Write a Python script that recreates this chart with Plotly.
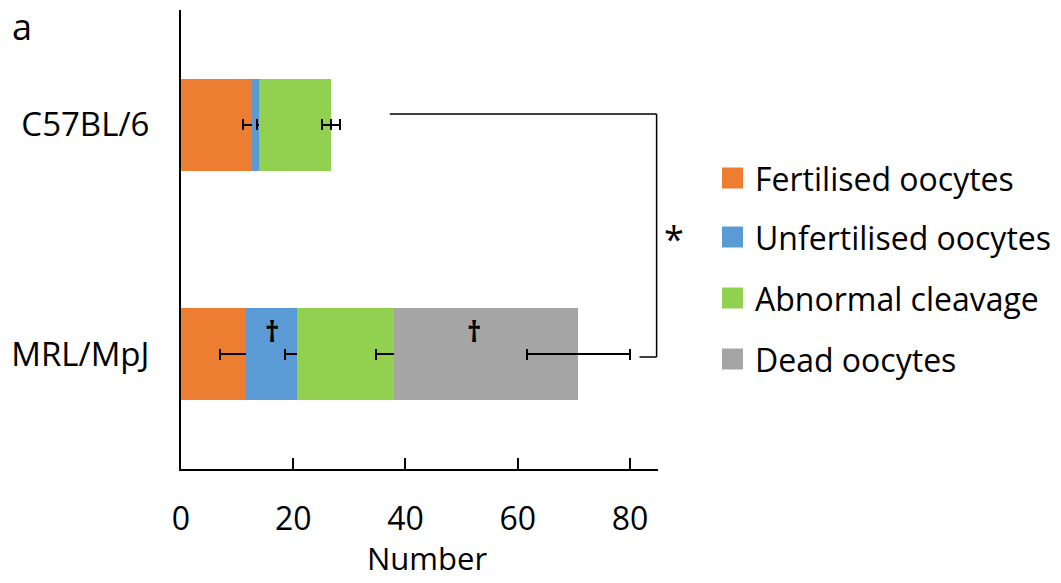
import plotly.graph_objects as go

W, H = 1061, 583
L, R, T, B = 181, 403, 10, 114

strains = ["C57BL/6", "MRL/MpJ"]
series = ["Fertilised oocytes", "Unfertilised oocytes", "Abnormal cleavage", "Dead oocytes"]
colors = ["#ED7D31", "#5B9BD5", "#92D050", "#A5A5A5"]
values = {
    "Fertilised oocytes": [12.7, 11.5],
    "Unfertilised oocytes": [1.2, 9.2],
    "Abnormal cleavage": [12.8, 17.2],
    "Dead oocytes": [0.0, 32.9],
}
errors = {
    "Fertilised oocytes": [1.65, 4.6],
    "Unfertilised oocytes": [0.33, 2.2],
    "Abnormal cleavage": [1.6, 3.2],
    "Dead oocytes": [0.0, 9.2],
}
x_ticks = [0, 20, 40, 60, 80]
FONT = "Open Sans"

fig = go.Figure()
for name, col in zip(series, colors):
    fig.add_trace(go.Bar(
        y=strains, x=values[name], name=name, orientation="h",
        marker=dict(color=col, line=dict(width=0)), width=0.4,
        error_x=dict(type="data", array=errors[name], visible=True,
                     color="black", thickness=2, width=5.5),
        showlegend=False,
    ))

fig.update_layout(
    barmode="stack",
    width=W, height=H,
    margin=dict(l=L, r=R, t=T, b=B),
    plot_bgcolor="white", paper_bgcolor="white",
    font=dict(family=FONT, size=31, color="black"),
    xaxis=dict(range=[0, 85], tickvals=x_ticks, ticks="inside", ticklen=11,
               tickwidth=2, tickcolor="black", showline=True, linecolor="black",
               linewidth=2, showgrid=False, zeroline=False,
               ticklabelstandoff=21, tickfont=dict(size=32)),
    yaxis=dict(type="category", categoryorder="array",
               categoryarray=["MRL/MpJ", "C57BL/6"], range=[-0.5, 1.5],
               showline=True, linecolor="black", linewidth=2, ticks="",
               showgrid=False, zeroline=False, ticklabelstandoff=23,
               tickfont=dict(size=33)),
)

def px(xp, yp):
    return (xp - L) / (W - L - R), 1 - (yp - T) / (H - T - B)

# x-axis title
ax, ay = px(427, 558)
fig.add_annotation(text="Number", x=ax, y=ay, xref="paper", yref="paper",
                   showarrow=False, font=dict(size=31), xanchor="center", yanchor="middle")
# panel label
ax, ay = px(22, 27)
fig.add_annotation(text="a", x=ax, y=ay, xref="paper", yref="paper",
                   showarrow=False, font=dict(size=36), xanchor="center", yanchor="middle")

# significance bracket
line = dict(color="black", width=1.5)
fig.add_shape(type="line", xref="x", yref="y", x0=37.2, x1=84.75, y0=1.047, y1=1.047, line=line)
fig.add_shape(type="line", xref="x", yref="y", x0=84.75, x1=84.75, y0=1.047, y1=-0.012, line=line)
fig.add_shape(type="line", xref="x", yref="y", x0=81.7, x1=84.75, y0=-0.012, y1=-0.012, line=line)
ax, ay = px(674, 238)
fig.add_annotation(text="*", x=ax, y=ay, xref="paper", yref="paper", showarrow=False,
                   font=dict(size=36), xanchor="center", yanchor="middle")

# daggers
for xd in [16.15, 52.2]:
    fig.add_annotation(text="<b>†</b>", x=xd, y=0.10, xref="x", yref="y", showarrow=False,
                       font=dict(size=28), xanchor="center", yanchor="middle")

# legend (manual)
leg_y = [178, 237, 298, 359]
for name, col, yp in zip(series, colors, leg_y):
    x0, y0 = px(722, yp - 10.5)
    x1, y1 = px(743, yp + 10.5)
    fig.add_shape(type="rect", xref="paper", yref="paper", x0=x0, x1=x1, y0=y0, y1=y1,
                  fillcolor=col, line=dict(width=0))
    tx, ty = px(753, yp)
    fig.add_annotation(text=name, x=tx, y=ty, xref="paper", yref="paper", showarrow=False,
                       font=dict(size=32), xanchor="left", yanchor="middle")

fig.write_html("out.html")
